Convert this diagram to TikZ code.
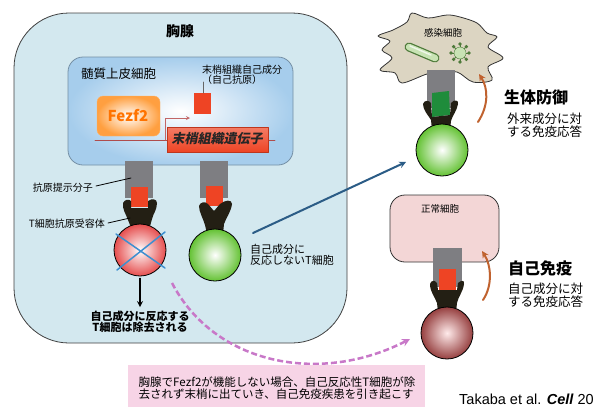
\documentclass[tikz,border=0pt]{standalone}
\usepackage{fontspec}
\setmainfont{Noto Sans CJK JP}
\newfontfamily\slantjp{Noto Sans CJK JP}[FakeSlant=0.2]
\newfontfamily\latin{Liberation Sans}
\usetikzlibrary{positioning}
\definecolor{thymus}{HTML}{D3E8EF}
\definecolor{mecblue}{HTML}{A6CDEC}
\definecolor{mhc}{HTML}{7E7E82}
\definecolor{agred}{HTML}{EE4424}
\definecolor{agreen}{HTML}{1F8C3B}
\definecolor{tcr}{HTML}{231F14}
\definecolor{xblue}{HTML}{3D8FD0}
\definecolor{navy}{HTML}{2B5C86}
\definecolor{rust}{HTML}{C0622F}
\definecolor{dashpink}{HTML}{C878C8}
\definecolor{infect}{HTML}{DCD5C2}
\definecolor{normal}{HTML}{F3D6D6}
\definecolor{note}{HTML}{F7D4E6}
\definecolor{bact}{HTML}{C8E3B4}
\definecolor{bactrim}{HTML}{4E7A3A}
\newcommand{\fs}[1]{\fontsize{#1}{#1}\selectfont}
\tikzset{
  lbl/.style={inner sep=0pt, font=\fs{10}},
  head/.style={inner sep=0pt, font=\fs{16}\bfseries, anchor=west},
  sub/.style={inner sep=0pt, font=\fs{12.5}, anchor=west, align=left},
  mhcbox/.style={fill=mhc},
  tball/.style={circle, draw=black, thick, minimum size=52pt, inner sep=0pt},
  cure/.style={->, rust, line width=2pt},
}
\begin{document}
\begin{tikzpicture}[x=1pt,y=-1pt,line join=round,line cap=round,>=stealth]
\useasboundingbox (0,0) rectangle (596,407);
% thymus
\draw[fill=thymus, draw=black!75, thick, rounded corners=55pt] (14,13) rectangle (347,343);
\node[inner sep=0pt, font=\fs{14}\bfseries] (thy) at (180,31) {胸腺};
% medullary epithelial cell
\draw[inner color=white, outer color=mecblue, draw=mecblue!70!black, thick, rounded corners=15pt] (68,57) rectangle (293,165);
\node[lbl, font=\fs{12.5}, anchor=west] (mtec) at (81,74) {髄質上皮細胞};
\node[lbl, align=left, anchor=west] (selfag) at (202,75) {末梢組織自己成分\\（自己抗原）};
\fill[agred] (194,93) rectangle (211,114);
\draw[black!60, thick] (203,82) -- (203,93);
\draw[red!55!black!70, thick] (95,140) -- (275,140);
\draw[->, red!60!black!60, thick] (165,140) -- (165,118) -- (190,118);
\draw[inner color=white, outer color=orange!75, draw=orange!60, rounded corners=6pt] (97,96) rectangle (160,136);
\node[inner sep=0pt, font=\fs{15}\bfseries, text=orange!90!red] (fezf) at (128,116) {Fezf2};
\shade[top color=agred!70, bottom color=agred, draw=agred!80!black] (167,127) rectangle (268,152);
\node[inner sep=0pt, font=\fs{13}\slantjp\bfseries, text=black!85] (gene) at (217,139) {末梢組織遺伝子};
% presenting molecules
\foreach \x in {125,200}{\fill[mhcbox] (\x,161) rectangle (\x+28,198);}
\fill[agred] (131,187) rectangle (148,207);
\fill[agred] (206,186) rectangle (223,206);
\fill[tcr] (123,203) .. controls (125,199) and (129,199) .. (131,201) -- (131,208) -- (148,208) -- (148,201)
  .. controls (152,198) and (157,199) .. (157,203) .. controls (157,210) and (153,214) .. (152,219)
  -- (149,230) -- (132,230) -- (128,220) .. controls (126,214) and (122,209) .. (123,203) -- cycle;
\fill[tcr] (199,206) .. controls (200,202) and (205,201) .. (208,204) -- (214,211) -- (220,204)
  .. controls (225,200) and (232,199) .. (232,204) .. controls (231,212) and (226,218) .. (224,224)
  -- (223,234) -- (207,234) -- (205,225) .. controls (203,218) and (199,212) .. (199,206) -- cycle;
\node[tball, inner color=white, outer color=red!55!pink!90!black] (delT) at (140,250) {};
\node[tball, inner color=white, outer color=green!55!lime!70!black!80] (tolT) at (215,255) {};
\draw[xblue, line width=1.5pt] (116,234) -- (165,268) (165,232) -- (117,270);
\node[lbl, anchor=east] (mhcl) at (93,188) {抗原提示分子};
\node[lbl, anchor=east] (tcrl) at (105,224) {T細胞抗原受容体};
\draw[thick] (mhcl.east) ++(3,-2) -- (131,178);
\draw[thick] (tcrl.east) ++(3,-1) -- (130,218);
\coordinate (delend) at (140,307);
\draw[->, line width=1.6pt] (delT.south) ++(0,2) -- (delend);
\node[lbl, font=\fs{11}\bfseries, align=center, below=4pt of delend] (deltxt) {自己成分に反応する\\T細胞は除去される};
\node[lbl, font=\fs{11}, align=left, anchor=west] (toltxt) at (250,255) {自己成分に\\反応しないT細胞};
% infected cell
\draw[fill=infect, draw=black!80, thick] plot[smooth cycle, tension=0.55] coordinates {
  (393,30) (407,22) (412,13) (428,18) (447,15) (460,17) (477,23) (487,33) (497,37) (488,47)
  (503,58) (488,67) (492,80) (473,82) (457,72) (440,73) (427,74) (402,83) (395,73) (380,70)
  (392,58) (382,50) (390,41) (378,36)};
\node[lbl, font=\fs{9.5}] (inf) at (443,33) {感染細胞};
\draw[bactrim, line width=9pt] (409,47) -- (435,58);
\draw[bact, line width=6.5pt] (409,47) -- (435,58);
\draw[white, line width=1.5pt, opacity=0.7] (410,46) -- (431,55);
\foreach \a in {0,45,...,315}{
  \draw[bactrim, thick] (460,53) -- ++(\a:9);
  \fill[bactrim] (460,53) ++(\a:9) circle (1.8);}
\node[circle, draw=bactrim, fill=bact, minimum size=12pt, inner sep=0pt] (virus) at (460,53) {};
\fill[mhcbox] (427,70) rectangle (455,108);
\fill[agreen] (432,93) -- (449,91) -- (450,115) -- (432,117) -- cycle;
\fill[tcr] (423,104) .. controls (424,100) and (429,100) .. (431,103) -- (432,117) -- (450,115) -- (451,103)
  .. controls (454,99) and (459,100) .. (458,104) .. controls (457,111) and (452,116) .. (451,121)
  -- (450,130) -- (432,130) -- (431,120) .. controls (428,115) and (423,110) .. (423,104) -- cycle;
\node[tball, inner color=white, outer color=green!55!lime!70!black!80] (effT) at (442,150) {};
\coordinate (defbot) at (478,122);
\coordinate (deftop) at (479,74);
\draw[cure] (defbot) .. controls (489,105) and (488,88) .. (deftop);
\node[head] (def) at (504,97) {生体防御};
\node[sub] (deftxt) at (507,125) {外来成分に対\\する免疫応答};
\coordinate (navyst) at (253,233);
\path (effT.center) ++(-36,12) coordinate (navyend);
\draw[->, navy, line width=2pt] (navyst) -- (navyend);
% normal cell
\draw[fill=normal, draw=black!80, thick, rounded corners=15pt] (390,195) rectangle (499,262);
\node[lbl, font=\fs{9.5}] (nrm) at (440,209) {正常細胞};
\fill[mhcbox] (433,248) rectangle (462,287);
\fill[agred] (439,269) rectangle (456,290);
\fill[tcr] (430,284) .. controls (431,280) and (435,280) .. (437,283) -- (438,290) -- (457,290) -- (458,283)
  .. controls (461,280) and (465,280) .. (464,284) .. controls (463,292) and (458,297) .. (457,303)
  -- (456,312) -- (438,312) -- (437,303) .. controls (435,297) and (430,292) .. (430,284) -- cycle;
\node[tball, inner color=red!8, outer color=red!45!black!75] (autoT) at (447,333) {};
\coordinate (autobot) at (483,300);
\coordinate (autotop) at (482,251);
\draw[cure] (autobot) .. controls (493,285) and (491,265) .. (autotop);
\node[head] (auto) at (508,268) {自己免疫};
\node[sub] (autotxt) at (508,295) {自己成分に対\\する免疫応答};
% escape route
\coordinate (escst) at (172,283);
\coordinate (escend) at (410,339);
\draw[->, dashpink, line width=2.5pt, dash pattern=on 6pt off 3pt, line cap=butt] (escst) .. controls (215,365) and (320,385) .. (escend);
\fill[note] (128,365) rectangle (425,407);
\node[lbl, font=\fs{11.5}, align=left] (notetxt) at (277,388) {胸腺でFezf2が機能しない場合、自己反応性T細胞が除\\去されず末梢に出ていき、自己免疫疾患を引き起こす};
\node[inner sep=0pt, font=\fs{14.5}\latin, anchor=base west] (ref) at (459,404) {Takaba et al. \textbf{\textit{Cell}} 20};
\end{tikzpicture}
\end{document}
